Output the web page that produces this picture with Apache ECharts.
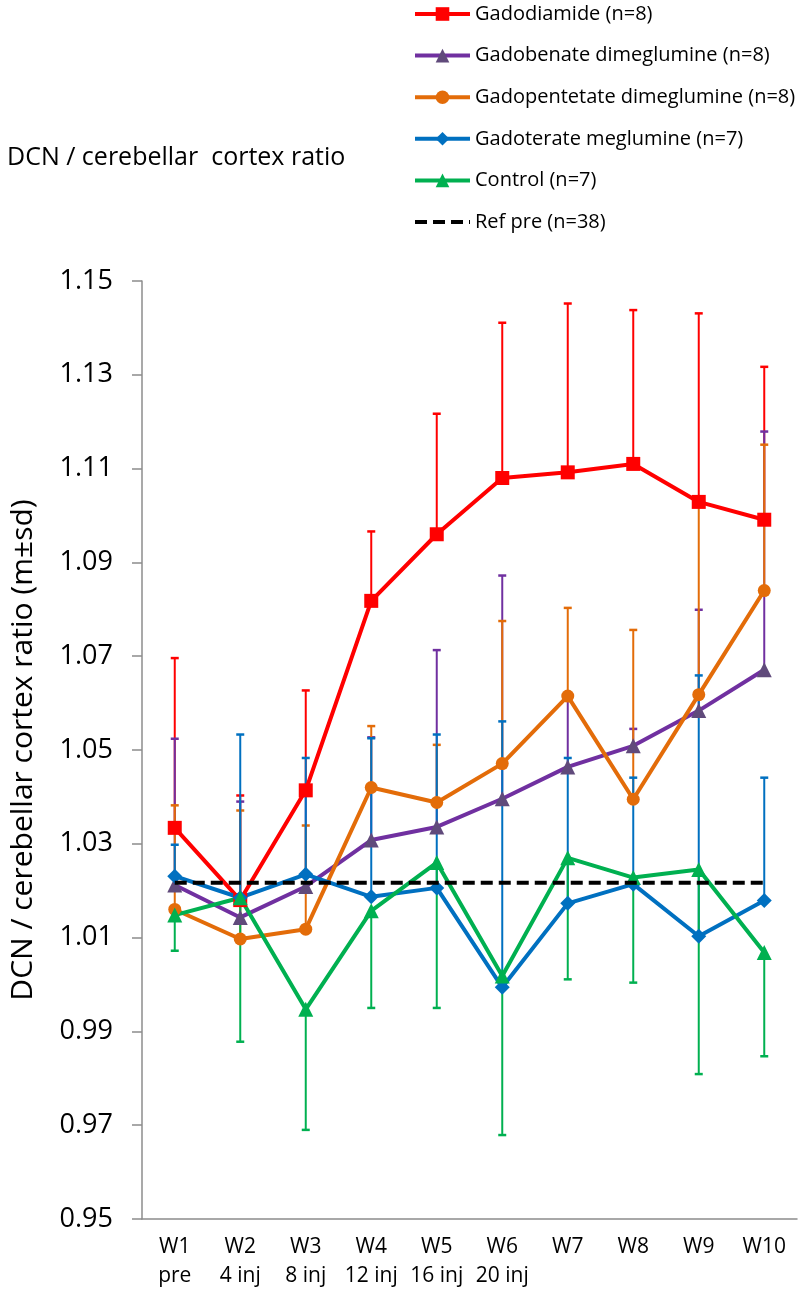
<!DOCTYPE html>
<html>
<head>
<meta charset="utf-8">
<script src="https://cdn.jsdelivr.net/npm/echarts@6/dist/echarts.min.js"></script>
<style>
html,body{margin:0;padding:0;background:#fff;}
#chart{width:800px;height:1291px;}
</style>
</head>
<body>
<div id="chart"></div>
<script>
// x categories (week / cumulative injections)
const weeks = ['W1\npre', 'W2\n4 inj', 'W3\n8 inj', 'W4\n12 inj', 'W5\n16 inj', 'W6\n20 inj', 'W7', 'W8', 'W9', 'W10'];

// means
const gadodiamide = [1.0334, 1.0180, 1.0414, 1.0818, 1.0960, 1.1080, 1.1092, 1.1110, 1.1029, 1.0991];
const gadobenate = [1.0212, 1.0143, 1.0209, 1.0308, 1.0336, 1.0396, 1.0464, 1.0509, 1.0584, 1.0671];
const gadopentetate = [1.0160, 1.0097, 1.0118, 1.0420, 1.0388, 1.0471, 1.0615, 1.0395, 1.0618, 1.0840];
const gadoterate = [1.0231, 1.0185, 1.0235, 1.0187, 1.0206, 0.9994, 1.0173, 1.0214, 1.0103, 1.0179];
const control = [1.0148, 1.0185, 0.9947, 1.0157, 1.0260, 1.0018, 1.0270, 1.0228, 1.0245, 1.0068];
const refPre = [1.0217, 1.0217, 1.0217, 1.0217, 1.0217, 1.0217, 1.0217, 1.0217, 1.0217, 1.0217];

// sd (drawn upwards, control drawn downwards)
const gadodiamideSd = [0.0362, 0.0223, 0.0213, 0.0148, 0.0257, 0.0331, 0.0360, 0.0328, 0.0402, 0.0326];
const gadobenateSd = [0.0312, 0.0247, 0.0201, 0.0219, 0.0377, 0.0476, 0.0141, 0.0036, 0.0215, 0.0508];
const gadopentetateSd = [0.0222, 0.0274, 0.0221, 0.0131, 0.0123, 0.0304, 0.0188, 0.0361, 0.0407, 0.0311];
const gadoterateSd = [0.0067, 0.0348, 0.0248, 0.0338, 0.0327, 0.0567, 0.0310, 0.0227, 0.0556, 0.0262];
const controlSd = [0.0076, 0.0307, 0.0257, 0.0207, 0.0310, 0.0339, 0.0259, 0.0224, 0.0436, 0.0221];

const yTicksMin = 0.95, yTicksMax = 1.15, yStep = 0.02;

const FONT = 'Open Sans';

const groups = [
  {name: 'Gadodiamide (n=8)', mean: gadodiamide, sd: gadodiamideSd, dir: 1, line: '#FF0000', mark: '#FF0000', symbol: 'rect', size: 14},
  {name: 'Gadobenate dimeglumine (n=8)', mean: gadobenate, sd: gadobenateSd, dir: 1, line: '#7030A0', mark: '#604A7B', symbol: 'triangle', size: 15},
  {name: 'Gadopentetate dimeglumine (n=8)', mean: gadopentetate, sd: gadopentetateSd, dir: 1, line: '#E36C09', mark: '#E36C09', symbol: 'circle', size: 13},
  {name: 'Gadoterate meglumine (n=7)', mean: gadoterate, sd: gadoterateSd, dir: 1, line: '#0070C0', mark: '#0070C0', symbol: 'diamond', size: 15},
  {name: 'Control (n=7)', mean: control, sd: controlSd, dir: -1, line: '#00B050', mark: '#00B050', symbol: 'triangle', size: 15}
];

// error bars: vertical line from mean to mean ± sd, cap at the far end
function errorBar(color) {
  return function (params, api) {
    const i = api.value(0);
    const a = api.coord([i, api.value(1)]);
    const b = api.coord([i, api.value(2)]);
    return {
      type: 'group',
      children: [
        {type: 'line', shape: {x1: a[0], y1: a[1], x2: b[0], y2: b[1]}, style: {stroke: color, lineWidth: 2}},
        {type: 'line', shape: {x1: b[0] - 4, y1: b[1], x2: b[0] + 4, y2: b[1]}, style: {stroke: color, lineWidth: 2.5}}
      ]
    };
  };
}

const series = [];
groups.forEach(g => {
  series.push({
    type: 'custom',
    name: g.name + ' sd',
    z: 1,
    renderItem: errorBar(g.line),
    data: g.mean.map((m, i) => [i, m, +(m + g.dir * g.sd[i]).toFixed(4)]),
    silent: true
  });
});
groups.forEach(g => {
  series.push({
    type: 'line',
    name: g.name,
    z: 2,
    data: g.mean,
    symbol: g.symbol,
    symbolSize: g.size,
    showAllSymbol: true,
    lineStyle: {color: g.line, width: 4},
    itemStyle: {color: g.mark, borderWidth: 0}
  });
});
series.push({
  type: 'line',
  name: 'Ref pre (n=38)',
  z: 3,
  data: refPre,
  symbol: 'none',
  lineStyle: {color: '#000', width: 4, type: [12, 6]},
  itemStyle: {color: '#000'}
});

const legendData = groups.map(g => ({name: g.name}));
legendData.push({name: 'Ref pre (n=38)', itemStyle: {opacity: 0}});

const chart = echarts.init(document.getElementById('chart'));
chart.setOption({
  animation: false,
  backgroundColor: '#fff',
  title: {
    text: 'DCN / cerebellar  cortex ratio',
    left: 2,
    top: 138,
    textStyle: {fontFamily: FONT, fontSize: 25, fontWeight: 'normal', color: '#000', lineHeight: 30}
  },
  legend: {
    orient: 'vertical',
    left: 408,
    top: -1,
    itemWidth: 55,
    itemHeight: 17,
    itemGap: 21.6,
    data: legendData,
    lineStyle: {width: 4},
    textStyle: {fontFamily: FONT, fontSize: 20, color: '#000', lineHeight: 20}
  },
  grid: {left: 137, right: 3, top: 281, bottom: 71, containLabel: false},
  xAxis: {
    type: 'category',
    data: weeks,
    axisLine: {lineStyle: {color: '#8c8c8c', width: 1.5}},
    axisTick: {length: 8, lineStyle: {color: '#8c8c8c', width: 1.5}},
    axisLabel: {interval: 0, fontFamily: FONT, fontSize: 21, lineHeight: 29, margin: 14, color: '#000'}
  },
  yAxis: {
    type: 'value',
    min: yTicksMin,
    max: yTicksMax,
    interval: yStep,
    name: 'DCN / cerebellar cortex ratio (m±sd)',
    nameLocation: 'middle',
    nameGap: 104,
    nameTextStyle: {fontFamily: FONT, fontSize: 30, color: '#000'},
    axisLine: {show: true, lineStyle: {color: '#8c8c8c', width: 1.5}},
    axisTick: {show: true, length: 10, lineStyle: {color: '#8c8c8c', width: 1.5}},
    splitLine: {show: false},
    axisLabel: {fontFamily: FONT, fontSize: 27, margin: 29, color: '#000', formatter: v => v.toFixed(2)}
  },
  series: series
});
</script>
</body>
</html>
